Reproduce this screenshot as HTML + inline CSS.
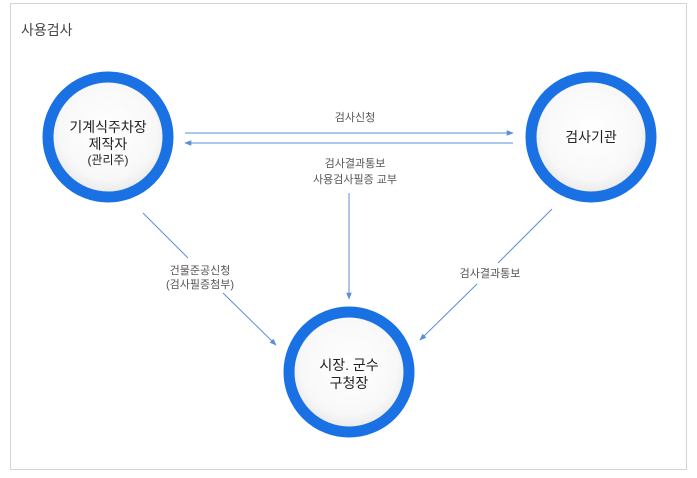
<!DOCTYPE html>
<html><head><meta charset="utf-8"><style>
body{margin:0;width:697px;height:473px;background:#fff;overflow:hidden}
svg text{font-family:"Liberation Sans","Noto Sans CJK KR",sans-serif}
</style></head><body>
<svg width="697" height="473" viewBox="0 0 697 473" xmlns="http://www.w3.org/2000/svg">
<defs>
<radialGradient id="g" cx="50%" cy="45%" r="50%">
<stop offset="0%" stop-color="#ffffff"/><stop offset="80%" stop-color="#f8f8f8"/><stop offset="100%" stop-color="#ececec"/>
</radialGradient>
<marker id="a" viewBox="0 0 10 10" refX="9" refY="5" markerWidth="7" markerHeight="7" orient="auto"><path d="M0,1 L10,5 L0,9 z" fill="#5b8fd6"/></marker>
</defs>
<rect x="10.5" y="3.5" width="676" height="466" fill="none" stroke="#d4d4d4"/>
<text x="21" y="35" font-size="14" fill="#444">사용검사</text>
<g stroke="#5b8fd6" stroke-width="1" fill="none">
<line x1="185" y1="133" x2="513" y2="133" marker-end="url(#a)"/>
<line x1="513" y1="143" x2="185" y2="143" marker-end="url(#a)"/>
<line x1="349" y1="193" x2="349" y2="299" marker-end="url(#a)"/>
<line x1="143" y1="213" x2="188" y2="258"/>
<line x1="223" y1="293" x2="276" y2="345" marker-end="url(#a)"/>
<line x1="552" y1="209" x2="498" y2="263"/>
<line x1="477" y1="284" x2="420" y2="340" marker-end="url(#a)"/>
</g>
<g font-size="11" fill="#555" text-anchor="middle">
<text x="355" y="121">검사신청</text>
<text x="355" y="167">검사결과통보</text>
<text x="355" y="183">사용검사필증 교부</text>
<text x="200" y="274">건물준공신청</text>
<text x="200" y="288">(검사필증첨부)</text>
<text x="490" y="277">검사결과통보</text>
</g>
<g stroke="#1a71e4" stroke-width="11" fill="url(#g)">
<circle cx="108" cy="137" r="60"/>
<circle cx="591" cy="137" r="60"/>
<circle cx="349" cy="372" r="60"/>
</g>
<g font-size="14" fill="#222" text-anchor="middle">
<text x="108" y="132">기계식주차장</text>
<text x="108" y="149">제작자</text>
<text x="108" y="164" font-size="12">(관리주)</text>
<text x="591" y="142">검사기관</text>
<text x="349" y="370">시장. 군수</text>
<text x="349" y="388">구청장</text>
</g>
</svg>
</body></html>
